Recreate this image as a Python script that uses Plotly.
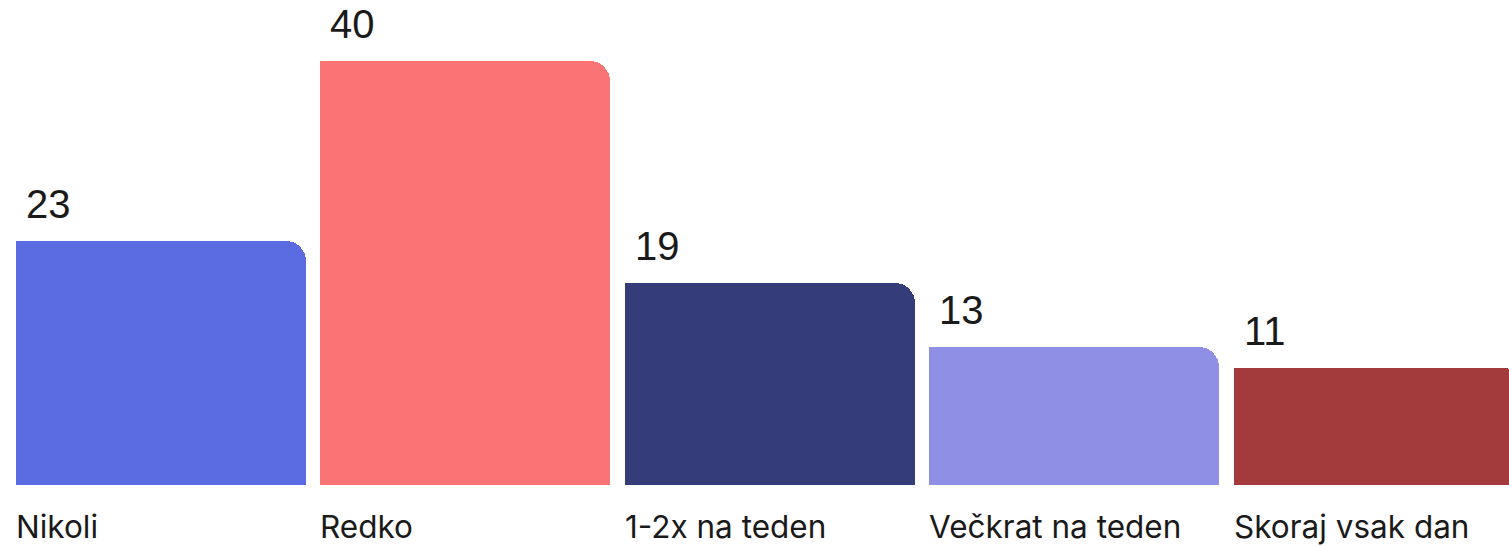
import plotly.graph_objects as go

categories = ["Nikoli", "Redko", "1-2x na teden", "Večkrat na teden", "Skoraj vsak dan"]
values = [23, 40, 19, 13, 11]
colors = ["#5B6BE1", "#FA7476", "#343D78", "#8F8FE6", "#A33A3B"]

BAR_W = 0.952
xs = list(range(len(categories)))

fig = go.Figure()
# full-width bar with rounded top corners
fig.add_trace(go.Bar(
    x=xs, y=values, width=[BAR_W] * len(xs), offset=[-BAR_W / 2] * len(xs),
    marker=dict(color=colors, cornerradius=20, line=dict(width=0)),
    hoverinfo="skip", showlegend=False,
))
# left half with square corner so only top-right is rounded
fig.add_trace(go.Bar(
    x=xs, y=values, width=[BAR_W / 2] * len(xs), offset=[-BAR_W / 2] * len(xs),
    marker=dict(color=colors, line=dict(width=0)),
    hoverinfo="skip", showlegend=False,
))

annotations = []
for i, (c, v) in enumerate(zip(categories, values)):
    annotations.append(dict(
        x=i - BAR_W / 2, y=v, xref="x", yref="y", text=str(v), showarrow=False,
        xanchor="left", yanchor="bottom", xshift=8, yshift=13,
        font=dict(family="Liberation Sans, Arial, sans-serif", size=40, color="#1a1a1a"),
    ))
    annotations.append(dict(
        x=i - BAR_W / 2, y=0, xref="x", yref="y", text=c, showarrow=False,
        xanchor="left", yanchor="top", xshift=-2, yshift=-20,
        font=dict(family="Inter, sans-serif", size=31.5, color="#1a1a1a"),
    ))

fig.update_layout(
    width=1509, height=546,
    margin=dict(l=0, r=0, t=0, b=0),
    barmode="overlay", bargap=0,
    plot_bgcolor="white", paper_bgcolor="white",
    xaxis=dict(range=[-0.5275, 4.428], visible=False, fixedrange=True),
    yaxis=dict(range=[-5.80, 45.71], visible=False, fixedrange=True),
    annotations=annotations,
)

fig.write_html(
    "out.html",
    config={"displayModeBar": False},
    post_script="document.body.style.margin='0';document.body.style.overflow='hidden';",
)
